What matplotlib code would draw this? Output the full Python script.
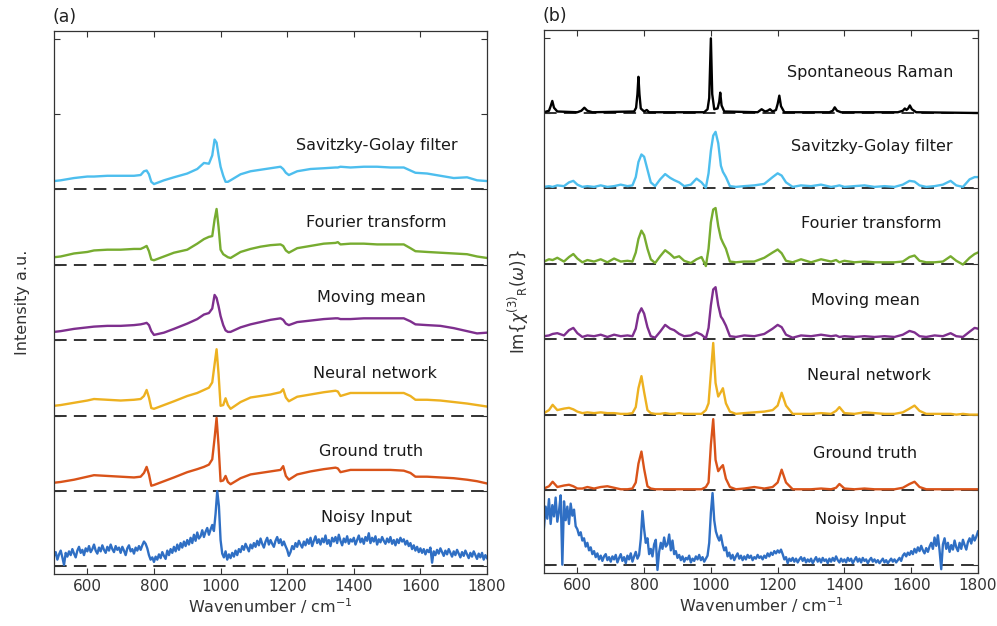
import numpy as np
import matplotlib
matplotlib.use("Agg")
import matplotlib.pyplot as plt

# ---------------- panel (a): intensity spectra ----------------
a_x = [500, 520, 560, 600, 620, 660, 700, 740, 760, 770, 778, 785, 792, 800, 830,
       860, 900, 930, 950, 965, 975, 982, 988, 994, 1000, 1008, 1015, 1022, 1030,
       1060, 1090, 1120, 1150, 1180, 1188, 1196, 1205, 1230, 1270, 1310, 1345, 1352,
       1360, 1390, 1430, 1470, 1510, 1550, 1570, 1585, 1620, 1660, 1700, 1740, 1770, 1800]

a_ground = [0.11, 0.12, 0.15, 0.19, 0.21, 0.20, 0.19, 0.18, 0.19, 0.24, 0.32, 0.22, 0.07, 0.08, 0.13,
            0.18, 0.25, 0.29, 0.32, 0.35, 0.42, 0.70, 0.97, 0.60, 0.13, 0.14, 0.20, 0.12, 0.09,
            0.17, 0.22, 0.24, 0.26, 0.28, 0.33, 0.20, 0.15, 0.22, 0.26, 0.29, 0.31, 0.30,
            0.25, 0.28, 0.28, 0.28, 0.28, 0.27, 0.24, 0.19, 0.19, 0.18, 0.17, 0.15, 0.13, 0.10]

a_neural = [0.13, 0.14, 0.17, 0.20, 0.22, 0.21, 0.20, 0.21, 0.22, 0.26, 0.34, 0.24, 0.10, 0.09, 0.14,
            0.19, 0.26, 0.30, 0.34, 0.37, 0.44, 0.68, 0.88, 0.55, 0.13, 0.14, 0.23, 0.14, 0.09,
            0.18, 0.24, 0.26, 0.28, 0.31, 0.35, 0.24, 0.19, 0.25, 0.28, 0.31, 0.33, 0.32,
            0.26, 0.30, 0.30, 0.30, 0.30, 0.30, 0.26, 0.21, 0.21, 0.20, 0.18, 0.16, 0.14, 0.12]

a_moving = [0.11, 0.12, 0.15, 0.17, 0.18, 0.19, 0.19, 0.20, 0.21, 0.22, 0.23, 0.20, 0.12, 0.07, 0.10,
            0.15, 0.22, 0.28, 0.34, 0.36, 0.42, 0.60, 0.56, 0.45, 0.32, 0.20, 0.13, 0.11, 0.11,
            0.17, 0.21, 0.24, 0.27, 0.29, 0.27, 0.22, 0.20, 0.24, 0.26, 0.28, 0.29, 0.29,
            0.28, 0.28, 0.29, 0.29, 0.29, 0.29, 0.25, 0.21, 0.20, 0.19, 0.16, 0.12, 0.09, 0.10]

a_fourier = [0.10, 0.11, 0.15, 0.17, 0.19, 0.20, 0.20, 0.21, 0.21, 0.23, 0.25, 0.18, 0.07, 0.06, 0.11,
             0.16, 0.20, 0.28, 0.34, 0.37, 0.38, 0.60, 0.74, 0.50, 0.20, 0.14, 0.12, 0.10, 0.09,
             0.17, 0.21, 0.24, 0.26, 0.27, 0.25, 0.19, 0.16, 0.22, 0.25, 0.28, 0.29, 0.30,
             0.27, 0.28, 0.28, 0.27, 0.27, 0.27, 0.22, 0.18, 0.17, 0.16, 0.15, 0.14, 0.11, 0.09]

a_savgol = [0.11, 0.12, 0.15, 0.17, 0.17, 0.18, 0.18, 0.18, 0.19, 0.24, 0.25, 0.20, 0.10, 0.07, 0.12,
            0.16, 0.21, 0.27, 0.35, 0.34, 0.45, 0.66, 0.62, 0.45, 0.30, 0.18, 0.10, 0.10, 0.12,
            0.20, 0.24, 0.26, 0.28, 0.30, 0.27, 0.22, 0.19, 0.24, 0.27, 0.28, 0.29, 0.29,
            0.30, 0.29, 0.30, 0.30, 0.29, 0.29, 0.25, 0.22, 0.21, 0.18, 0.15, 0.16, 0.12, 0.11]

# noisy input, one value every 5 cm-1 from 500 to 1800
a_noisy_x = list(range(500, 1801, 5))
a_noisy = [0.14, 0.19, 0.09, 0.16, 0.21, 0.12, 0.02, 0.18, 0.13, 0.20,
           0.15, 0.23, 0.17, 0.12, 0.21, 0.26, 0.18, 0.22, 0.15, 0.24,
           0.20, 0.27, 0.19, 0.23, 0.29, 0.21, 0.17, 0.25, 0.20, 0.28,
           0.22, 0.18, 0.26, 0.21, 0.29, 0.23, 0.19, 0.27, 0.22, 0.25,
           0.18, 0.26, 0.21, 0.15, 0.24, 0.28, 0.20, 0.23, 0.17, 0.25,
           0.21, 0.27, 0.22, 0.28, 0.33, 0.30, 0.24, 0.15, 0.09, 0.12,
           0.06, 0.13, 0.09, 0.16, 0.11, 0.19, 0.14, 0.10, 0.21, 0.15,
           0.23, 0.18, 0.26, 0.20, 0.29, 0.22, 0.31, 0.25, 0.33, 0.27,
           0.35, 0.29, 0.38, 0.31, 0.42, 0.34, 0.45, 0.37, 0.40, 0.48,
           0.39, 0.46, 0.51, 0.42, 0.49, 0.55, 0.47, 0.70, 1.00, 0.80,
           0.35, 0.17, 0.12, 0.20, 0.09, 0.16, 0.11, 0.18, 0.13, 0.21,
           0.15, 0.23, 0.19, 0.27, 0.22, 0.30, 0.25, 0.20, 0.29, 0.24,
           0.31, 0.26, 0.34, 0.28, 0.37, 0.30, 0.25, 0.33, 0.38, 0.29,
           0.35, 0.30, 0.26, 0.34, 0.39, 0.31, 0.36, 0.28, 0.33, 0.27,
           0.22, 0.14, 0.19, 0.27, 0.23, 0.31, 0.26, 0.34, 0.29, 0.25,
           0.33, 0.28, 0.36, 0.30, 0.38, 0.27, 0.34, 0.40, 0.31, 0.36,
           0.29, 0.37, 0.32, 0.41, 0.30, 0.35, 0.27, 0.38, 0.33, 0.39,
           0.31, 0.42, 0.34, 0.28, 0.37, 0.32, 0.40, 0.30, 0.36, 0.33,
           0.38, 0.29, 0.35, 0.41, 0.32, 0.37, 0.30, 0.39, 0.34, 0.44,
           0.31, 0.38, 0.33, 0.40, 0.29, 0.36, 0.32, 0.39, 0.34, 0.30,
           0.37, 0.32, 0.39, 0.30, 0.35, 0.28, 0.36, 0.31, 0.38, 0.33,
           0.36, 0.29, 0.34, 0.27, 0.31, 0.23, 0.28, 0.21, 0.26, 0.19,
           0.24, 0.18, 0.23, 0.16, 0.22, 0.19, 0.25, 0.05, 0.20, 0.15,
           0.22, 0.17, 0.24, 0.19, 0.14, 0.21, 0.16, 0.23, 0.18, 0.13,
           0.20, 0.15, 0.22, 0.17, 0.12, 0.19, 0.14, 0.21, 0.16, 0.11,
           0.18, 0.13, 0.20, 0.15, 0.10, 0.17, 0.12, 0.18, 0.09, 0.15,
           0.11]

# ---------------- panel (b): Im{chi(3)} spectra ----------------
raman_x = [500, 515, 520, 525, 530, 540, 600, 612, 621, 630, 645, 770, 776, 780, 783, 786,
           790, 800, 808, 815, 980, 990, 995, 1000, 1004, 1010, 1020, 1025, 1028, 1032, 1040,
           1140, 1152, 1162, 1170, 1177, 1185, 1195, 1200, 1205, 1210, 1220, 1355, 1365,
           1371, 1378, 1390, 1560, 1575, 1581, 1586, 1591, 1596, 1602, 1615, 1800]
raman = [0.01, 0.03, 0.09, 0.16, 0.07, 0.02, 0.01, 0.03, 0.07, 0.03, 0.01, 0.02, 0.07, 0.25, 0.48, 0.25,
         0.06, 0.02, 0.04, 0.01, 0.01, 0.05, 0.20, 0.99, 0.25, 0.05, 0.06, 0.15, 0.27, 0.10, 0.02,
         0.01, 0.05, 0.02, 0.03, 0.05, 0.02, 0.04, 0.12, 0.23, 0.09, 0.01, 0.01, 0.03,
         0.075, 0.03, 0.01, 0.01, 0.03, 0.06, 0.04, 0.06, 0.10, 0.05, 0.01, 0.00]

b_x = [500, 515, 526, 540, 560, 575, 588, 600, 615, 630, 650, 670, 690, 710, 730, 750,
       765, 775, 783, 792, 800, 810, 820, 833, 848, 863, 878, 890, 905, 920, 940, 957,
       972, 985, 993, 1000, 1007, 1014, 1022, 1030, 1036, 1045, 1057, 1075, 1100, 1130,
       1160, 1185, 1200, 1212, 1225, 1245, 1270, 1300, 1330, 1360, 1375, 1385, 1400, 1430,
       1460, 1490, 1520, 1550, 1575, 1595, 1610, 1625, 1645, 1670, 1695, 1718, 1735, 1755,
       1775, 1790, 1800]

b_savgol = [0.02, 0.03, 0.02, 0.04, 0.03, 0.08, 0.10, 0.05, 0.02, 0.03, 0.02, 0.04, 0.02, 0.03, 0.05, 0.03,
            0.04, 0.15, 0.35, 0.45, 0.42, 0.25, 0.08, 0.03, 0.12, 0.19, 0.14, 0.11, 0.08, 0.03, 0.05, 0.13,
            0.08, 0.01, 0.20, 0.50, 0.70, 0.75, 0.60, 0.30, 0.22, 0.15, 0.03, 0.02, 0.03, 0.04,
            0.06, 0.15, 0.20, 0.17, 0.08, 0.02, 0.04, 0.03, 0.05, 0.02, 0.03, 0.04, 0.02, 0.03,
            0.04, 0.02, 0.03, 0.02, 0.05, 0.10, 0.09, 0.04, 0.02, 0.03, 0.05, 0.10, 0.04, 0.02,
            0.12, 0.15, 0.15]

b_fourier = [0.03, 0.06, 0.05, 0.08, 0.03, 0.09, 0.13, 0.07, 0.02, 0.05, 0.03, 0.06, 0.02, 0.07, 0.03, 0.04,
             0.03, 0.15, 0.33, 0.44, 0.38, 0.20, 0.06, 0.01, 0.10, 0.18, 0.13, 0.08, 0.10, 0.04, 0.01, 0.06,
             0.09, -0.03, 0.20, 0.55, 0.72, 0.74, 0.50, 0.34, 0.28, 0.20, 0.03, 0.02, 0.03, 0.03,
             0.08, 0.15, 0.19, 0.14, 0.04, 0.02, 0.06, 0.02, 0.06, 0.03, 0.05, 0.02, 0.04, 0.02,
             0.03, 0.02, 0.02, 0.02, 0.03, 0.09, 0.11, 0.04, 0.02, 0.02, 0.03, 0.10, 0.04, -0.01,
             0.08, 0.13, 0.15]

b_moving = [0.04, 0.05, 0.07, 0.08, 0.05, 0.12, 0.15, 0.08, 0.03, 0.05, 0.04, 0.06, 0.03, 0.06, 0.04, 0.05,
            0.04, 0.14, 0.33, 0.41, 0.34, 0.16, 0.04, 0.02, 0.10, 0.19, 0.14, 0.12, 0.07, 0.04, 0.05, 0.09,
            0.06, 0.01, 0.15, 0.45, 0.66, 0.69, 0.45, 0.30, 0.26, 0.18, 0.04, 0.03, 0.05, 0.04,
            0.07, 0.14, 0.19, 0.16, 0.06, 0.02, 0.05, 0.04, 0.06, 0.04, 0.05, 0.03, 0.04, 0.03,
            0.04, 0.03, 0.04, 0.03, 0.06, 0.11, 0.09, 0.04, 0.03, 0.05, 0.04, 0.08, 0.04, 0.03,
            0.10, 0.15, 0.14]

b_neural = [0.02, 0.06, 0.13, 0.06, 0.08, 0.09, 0.07, 0.04, 0.02, 0.03, 0.02, 0.03, 0.02, 0.02, 0.01, 0.01,
            0.02, 0.10, 0.35, 0.51, 0.30, 0.06, 0.02, 0.01, 0.01, 0.02, 0.01, 0.01, 0.02, 0.01, 0.01, 0.01,
            0.01, 0.06, 0.15, 0.55, 0.95, 0.42, 0.24, 0.30, 0.35, 0.15, 0.04, 0.01, 0.02, 0.03,
            0.04, 0.06, 0.12, 0.29, 0.12, 0.01, 0.01, 0.01, 0.02, 0.01, 0.05, 0.10, 0.02, 0.01,
            0.03, 0.02, 0.01, 0.01, 0.03, 0.08, 0.12, 0.05, 0.01, 0.01, 0.01, 0.01, 0.00, 0.01,
            0.00, 0.00, 0.00]

b_ground = [0.02, 0.05, 0.11, 0.04, 0.06, 0.07, 0.05, 0.02, 0.02, 0.04, 0.02, 0.04, 0.05, 0.03, 0.01, 0.01,
            0.02, 0.10, 0.35, 0.51, 0.28, 0.05, 0.02, 0.01, 0.01, 0.01, 0.01, 0.01, 0.01, 0.01, 0.01, 0.01,
            0.01, 0.04, 0.10, 0.60, 0.94, 0.40, 0.25, 0.30, 0.33, 0.15, 0.04, 0.01, 0.02, 0.04,
            0.02, 0.04, 0.10, 0.27, 0.10, 0.01, 0.01, 0.01, 0.02, 0.01, 0.03, 0.08, 0.02, 0.01,
            0.02, 0.01, 0.01, 0.01, 0.03, 0.08, 0.11, 0.04, 0.01, 0.01, 0.01, 0.01, 0.01, 0.01,
            0.01, 0.01, 0.01]

b_noisy_x = list(range(500, 1801, 5))
b_noisy = [0.50, 0.78, 0.62, 0.88, 0.55, 0.80, 0.65, 0.90, 0.58, 0.72,
           0.93, 0.01, 0.85, 0.60, 0.78, 0.55, 0.82, 0.66, 0.74, 0.52,
           0.48, 0.40, 0.44, 0.33, 0.36, 0.25, 0.30, 0.20, 0.24, 0.15,
           0.19, 0.11, 0.16, 0.08, 0.13, 0.06, 0.12, 0.15, 0.07, 0.11,
           0.05, 0.12, 0.08, 0.14, 0.04, 0.10, 0.15, 0.06, 0.11, 0.03,
           0.13, 0.08, 0.16, 0.05, 0.12, 0.18, 0.09, 0.14, 0.35, 0.72,
           0.48, 0.30, 0.36, 0.15, 0.22, 0.12, 0.28, 0.34, -0.06, 0.18,
           0.30, 0.22, 0.37, 0.25, 0.28, 0.41, 0.20, 0.33, 0.15, 0.19,
           0.10, 0.14, 0.07, 0.12, 0.05, 0.10, 0.08, 0.13, 0.04, 0.09,
           0.06, 0.12, 0.08, 0.14, 0.07, 0.11, 0.05, 0.09, 0.13, 0.30,
           0.70, 0.96, 0.60, 0.45, 0.38, 0.33, 0.40, 0.28, 0.20, 0.24,
           0.12, 0.17, 0.09, 0.14, 0.07, 0.12, 0.16, 0.09, 0.13, 0.07,
           0.12, 0.08, 0.14, 0.10, 0.13, 0.07, 0.11, 0.09, 0.14, 0.10,
           0.12, 0.08, 0.13, 0.10, 0.16, 0.12, 0.17, 0.14, 0.19, 0.16,
           0.20, 0.17, 0.21, 0.15, 0.08, 0.11, 0.03, 0.09, 0.06, 0.10,
           0.05, 0.09, 0.04, 0.08, 0.11, 0.06, 0.10, 0.04, 0.08, 0.05,
           0.09, 0.03, 0.07, 0.11, 0.05, 0.09, 0.04, 0.10, 0.06, 0.08,
           0.03, 0.09, 0.05, 0.10, 0.06, 0.12, 0.07, 0.04, 0.09, 0.05,
           0.08, 0.04, 0.10, 0.06, 0.09, 0.03, 0.07, 0.11, 0.05, 0.09,
           0.04, 0.10, 0.06, 0.08, 0.03, 0.07, 0.10, 0.05, 0.08, 0.04,
           0.07, 0.03, 0.06, 0.09, 0.04, 0.07, 0.03, 0.06, 0.09, 0.05,
           0.08, 0.04, 0.07, 0.10, 0.06, 0.13, 0.16, 0.12, 0.17, 0.14,
           0.19, 0.15, 0.22, 0.17, 0.24, 0.19, 0.26, 0.20, 0.16, 0.23,
           0.18, 0.25, 0.30, 0.22, 0.37, 0.26, 0.40, 0.20, -0.05, 0.28,
           0.36, 0.22, 0.30, 0.18, 0.27, 0.21, 0.33, 0.24, 0.19, 0.30,
           0.22, 0.34, 0.27, 0.21, 0.31, 0.36, 0.29, 0.40, 0.33, 0.38,
           0.45]

names = ["Noisy Input", "Ground truth", "Neural network", "Moving mean",
         "Fourier transform", "Savitzky-Golay filter", "Spontaneous Raman"]
colors = ["#2f6fc4", "#d95319", "#edb120", "#7e2f8e", "#77ac30", "#4dbeee", "black"]

# label positions (wavenumber, height above own baseline)
a_label_pos = [(1439, 0.65), (1451, 0.53), (1463, 0.56), (1452, 0.56), (1467, 0.56), (1470, 0.58)]
b_label_pos = [(1449, 0.61), (1461, 0.49), (1474, 0.52), (1464, 0.52), (1479, 0.54), (1482, 0.56), (1476, 0.54)]

a_series = [(a_noisy_x, a_noisy), (a_x, a_ground), (a_x, a_neural), (a_x, a_moving),
            (a_x, a_fourier), (a_x, a_savgol)]
b_series = [(b_noisy_x, b_noisy), (b_x, b_ground), (b_x, b_neural), (b_x, b_moving),
            (b_x, b_fourier), (b_x, b_savgol), (raman_x, raman)]

fig = plt.figure(figsize=(9.97, 6.26), dpi=100)
ax_a = fig.add_axes([0.0542, 0.0831, 0.4343, 0.8674])
ax_b = fig.add_axes([0.5456, 0.0847, 0.4353, 0.8673])


def draw_panel(ax, series, label_pos):
    for k, (xs, ys) in enumerate(series):
        ax.axhline(k, color="#222222", lw=1.3, ls=(0, (7, 4)), zorder=1)
        ax.plot(xs, np.array(ys) + k, color=colors[k], lw=1.7, zorder=2)
        lx, ly = label_pos[k]
        ax.text(lx, k + ly, names[k], ha="center", va="center", fontsize=11.5, color="#1a1a1a")
    ax.set_xlim(500, 1800)
    ax.set_ylim(-0.1, 7.1)
    ax.set_xticks([600, 800, 1000, 1200, 1400, 1600, 1800])
    ax.set_yticks(range(8))
    ax.set_yticklabels([])
    ax.tick_params(direction="in", top=True, right=True, labelsize=11, length=4,
                   color="#333333", labelcolor="#333333")
    for sp in ax.spines.values():
        sp.set_color("#333333")
        sp.set_linewidth(0.9)
    ax.set_xlabel("Wavenumber / cm$^{-1}$", fontsize=11.5, color="#333333", labelpad=2)


draw_panel(ax_a, a_series, a_label_pos)
draw_panel(ax_b, b_series, b_label_pos)

ax_a.set_ylabel("Intensity a.u.", fontsize=11.5, color="#333333", labelpad=14)
ax_b.set_ylabel(r"Im$\{\chi^{(3)}{}_{\mathrm{R}}(\omega)\}$", fontsize=12, color="#333333", labelpad=6)

fig.text(52 / 997, 1 - 17 / 626, "(a)", fontsize=12.5, va="center", color="#222222")
fig.text(542 / 997, 1 - 16 / 626, "(b)", fontsize=12.5, va="center", color="#222222")

fig.savefig("out.png", dpi=100)
